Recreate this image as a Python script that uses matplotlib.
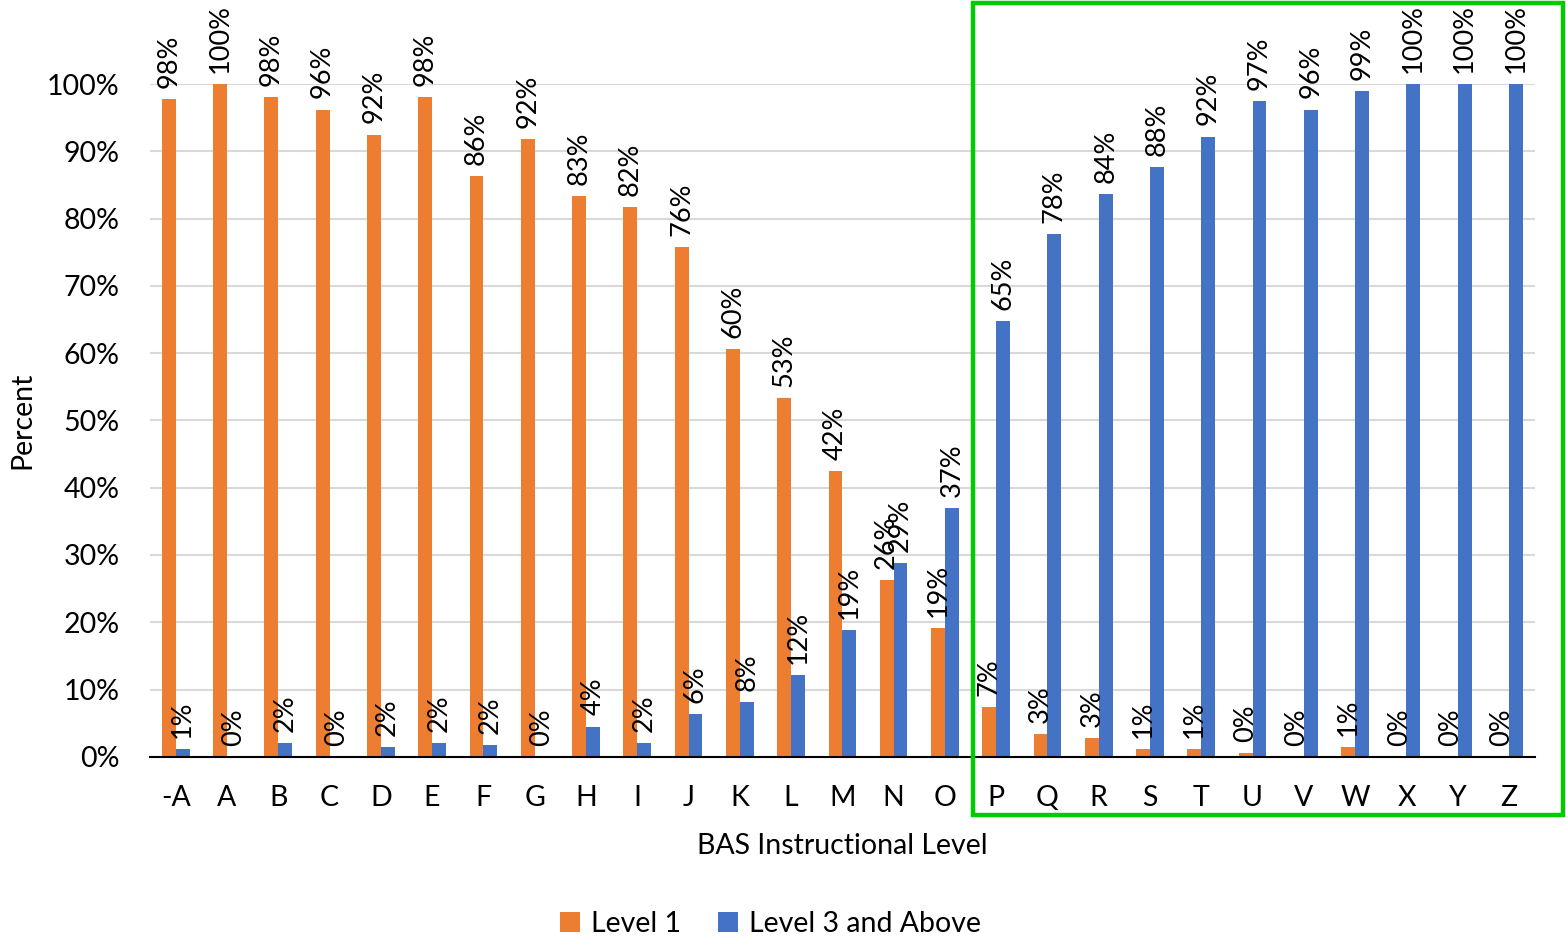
import matplotlib
matplotlib.use("Agg")
import matplotlib.pyplot as plt
from matplotlib.patches import Rectangle
import numpy as np

plt.rcParams['font.family'] = ['Lato', 'DejaVu Sans']

categories = ['-A', 'A', 'B', 'C', 'D', 'E', 'F', 'G', 'H', 'I', 'J', 'K', 'L', 'M',
              'N', 'O', 'P', 'Q', 'R', 'S', 'T', 'U', 'V', 'W', 'X', 'Y', 'Z']
level1 = [97.8, 100, 98.1, 96.2, 92.5, 98.1, 86.3, 91.8, 83.4, 81.7, 75.8, 60.6, 53.3, 42.5,
          26.3, 19.1, 7.4, 3.4, 2.8, 1.2, 1.2, 0.6, 0.0, 1.4, 0.0, 0.0, 0.0]
level1_labels = ['98%', '100%', '98%', '96%', '92%', '98%', '86%', '92%', '83%', '82%', '76%', '60%', '53%', '42%',
                 '26%', '19%', '7%', '3%', '3%', '1%', '1%', '0%', '0%', '1%', '0%', '0%', '0%']
level3 = [1.2, 0.0, 2.1, 0.0, 1.5, 2.1, 1.7, 0.0, 4.5, 2.1, 6.3, 8.2, 12.2, 18.9,
          28.8, 37.0, 64.8, 77.7, 83.6, 87.6, 92.2, 97.5, 96.2, 98.9, 100, 100, 100]
level3_labels = ['1%', '0%', '2%', '0%', '2%', '2%', '2%', '0%', '4%', '2%', '6%', '8%', '12%', '19%',
                 '29%', '37%', '65%', '78%', '84%', '88%', '92%', '97%', '96%', '99%', '100%', '100%', '100%']
yticks = [0, 10, 20, 30, 40, 50, 60, 70, 80, 90, 100]

orange = '#ED7D31'
blue = '#4472C4'

fig = plt.figure(figsize=(15.66, 9.39), dpi=100)
ax = fig.add_axes([0.0958, 0.194, 0.8842, 0.7165])

x = np.arange(len(categories))
w = 0.27
b1 = ax.bar(x - w / 2, level1, width=w, color=orange, label='Level 1', zorder=3)
b3 = ax.bar(x + w / 2, level3, width=w, color=blue, label='Level 3 and Above', zorder=3)

for rect, lab in zip(b1, level1_labels):
    ax.annotate(lab, (rect.get_x() + rect.get_width() / 2, rect.get_height()),
                xytext=(0, 8), textcoords='offset points', rotation=90,
                ha='center', va='bottom', fontsize=19.5, annotation_clip=False)
for rect, lab in zip(b3, level3_labels):
    ax.annotate(lab, (rect.get_x() + rect.get_width() / 2, rect.get_height()),
                xytext=(0, 8), textcoords='offset points', rotation=90,
                ha='center', va='bottom', fontsize=19.5, annotation_clip=False)

ax.set_xlim(-0.5, len(categories) - 0.5)
ax.set_ylim(0, 100)
ax.set_yticks(yticks)
ax.set_yticklabels([f'{t}%' for t in yticks], fontsize=20.5)
ax.set_xticks(x)
ax.set_xticklabels(categories, fontsize=20.5)
ax.tick_params(axis='both', length=0)
ax.tick_params(axis='x', pad=20)
ax.tick_params(axis='y', pad=22)
ax.yaxis.grid(True, color='#D9D9D9', linewidth=1.5, zorder=0)
ax.set_axisbelow(True)
for s in ['top', 'right', 'left']:
    ax.spines[s].set_visible(False)
ax.spines['bottom'].set_color('black')
ax.spines['bottom'].set_linewidth(1.5)
ax.spines['bottom'].set_zorder(4)

ax.set_ylabel('Percent', fontsize=20.5, labelpad=8)
ax.set_xlabel('BAS Instructional Level', fontsize=20.5, labelpad=16)

fig.legend(handles=[b1, b3], labels=['Level 1', 'Level 3 and Above'], loc='center',
           bbox_to_anchor=(0.492, 0.016), ncol=2, frameon=False, fontsize=20.5,
           handlelength=0.7, handleheight=0.7, columnspacing=1.3, handletextpad=0.4)

fig.add_artist(Rectangle((973 / 1566, 1 - 815 / 939), (1563 - 973) / 1566, (815 - 3) / 939,
                         transform=fig.transFigure, fill=False, edgecolor='#00CC00',
                         linewidth=3.2, zorder=10))

fig.savefig('out.png', dpi=100)
